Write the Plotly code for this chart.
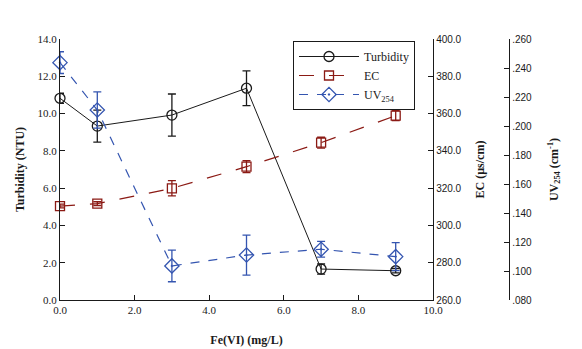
import plotly.graph_objects as go

fe = [0, 1, 3, 5, 7, 9]
turbidity = [10.82, 9.33, 9.92, 11.36, 1.66, 1.57]
turbidity_err = [0.27, 0.86, 1.13, 0.93, 0.27, 0.12]
ec = [310.4, 311.7, 319.9, 331.5, 344.4, 358.9]
ec_err = [1.0, 1.0, 4.1, 3.2, 2.9, 2.7]
uv = [0.2437, 0.2110, 0.1035, 0.1110, 0.1150, 0.1099]
uv_err = [0.0075, 0.0125, 0.0109, 0.0138, 0.0054, 0.0097]

x_ticks = [0, 2, 4, 6, 8, 10]
x_ticktext = ["0.0", "2.0", "4.0", "6.0", "8.0", "10.0"]
uv_ticks = [0.08, 0.10, 0.12, 0.14, 0.16, 0.18, 0.20, 0.22, 0.24, 0.26]
uv_ticktext = [".080", ".100", ".120", ".140", ".160", ".180", ".200", ".220", ".240", ".260"]

BLACK = "#1a1a1a"
RED = "#8b1a14"
BLUE = "#3455b0"
SERIF = "'Liberation Serif', 'Times New Roman', Times, serif"
SANS = "'Liberation Sans', Arial, sans-serif"

fig = go.Figure()
fig.add_trace(go.Scatter(
    x=fe, y=turbidity, name="Turbidity", mode="lines+markers", cliponaxis=False,
    line=dict(color=BLACK, width=1),
    marker=dict(symbol="circle-open", size=10, color=BLACK, line=dict(width=1.3)),
    error_y=dict(type="data", array=turbidity_err, color=BLACK, thickness=1.3, width=4),
    yaxis="y"))
fig.add_trace(go.Scatter(
    x=fe, y=ec, name="EC", mode="lines+markers", cliponaxis=False,
    line=dict(color=RED, width=1.2, dash="longdash"),
    marker=dict(symbol="square-open", size=9, color=RED, line=dict(width=1.3)),
    error_y=dict(type="data", array=ec_err, color=RED, thickness=1.3, width=4),
    yaxis="y2"))
fig.add_trace(go.Scatter(
    x=fe, y=uv, name="UV<sub>254</sub>", mode="lines+markers", cliponaxis=False,
    line=dict(color=BLUE, width=1.2, dash="dash"),
    marker=dict(symbol="diamond-open-dot", size=11, color=BLUE, line=dict(width=1.3)),
    error_y=dict(type="data", array=uv_err, color=BLUE, thickness=1.3, width=4),
    yaxis="y3"))

xdom_end = 373 / 449

fig.update_layout(
    width=582, height=349,
    margin=dict(l=60, r=73, t=39, b=49),
    paper_bgcolor="white", plot_bgcolor="white",
    showlegend=True,
    legend=dict(
        x=(293 - 60) / 449, y=(300 - 41) / 261, xanchor="left", yanchor="top",
        bordercolor=BLACK, borderwidth=1, bgcolor="white",
        font=dict(family=SERIF, size=12, color=BLACK),
        itemwidth=60, tracegroupgap=0,
    ),
    xaxis=dict(
        domain=[0, xdom_end], range=[0, 10], automargin=False,
        tickvals=x_ticks, ticktext=x_ticktext,
        ticks="inside", ticklen=5, tickcolor=BLACK,
        showline=True, linecolor=BLACK, linewidth=1.3,
        showgrid=False, zeroline=False,
        tickfont=dict(family=SERIF, size=11, color=BLACK),
        title=dict(text="<b>Fe(VI) (mg/L)</b>", font=dict(family=SERIF, size=12, color=BLACK), standoff=20),
    ),
    yaxis=dict(
        range=[0, 14], tickvals=[0, 2, 4, 6, 8, 10, 12, 14], tickformat=".1f", automargin=False,
        ticks="inside", ticklen=5, tickcolor=BLACK,
        showline=True, linecolor=BLACK, linewidth=1.3,
        showgrid=False, zeroline=False,
        tickfont=dict(family=SERIF, size=11, color=BLACK),
        title=dict(text="<b>Turbidity (NTU)</b>", font=dict(family=SERIF, size=12, color=BLACK), standoff=10),
    ),
    yaxis2=dict(
        range=[260, 400], tickvals=[260, 280, 300, 320, 340, 360, 380, 400], tickformat=".1f",
        overlaying="y", side="right", anchor="x", automargin=False,
        ticks="inside", ticklen=5, tickcolor=BLACK,
        showline=True, linecolor=BLACK, linewidth=1.3,
        showgrid=False, zeroline=False,
        tickfont=dict(family=SANS, size=10, color=BLACK),
        title=dict(text="<b>EC (µs/cm)</b>", font=dict(family=SERIF, size=12, color=BLACK), standoff=14),
    ),
    yaxis3=dict(
        range=[0.08, 0.26], tickvals=uv_ticks, ticktext=uv_ticktext,
        overlaying="y", side="right", anchor="free", position=1.0, automargin=False,
        ticks="inside", ticklen=5, tickcolor=BLACK,
        showline=True, linecolor=BLACK, linewidth=1.3,
        showgrid=False, zeroline=False,
        tickfont=dict(family=SANS, size=10, color=BLACK),
        title=dict(text="<b>UV<sub>254</sub> (cm<sup>-1</sup>)</b>", font=dict(family=SERIF, size=12, color=BLACK), standoff=18),
    ),
)

fig.write_html("out.html")
